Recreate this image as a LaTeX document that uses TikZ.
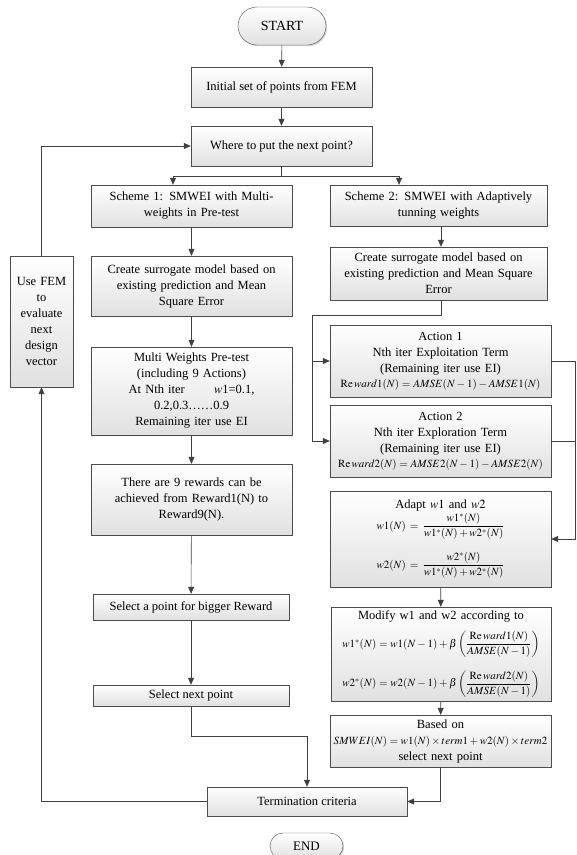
\documentclass[tikz,border=0pt]{standalone}
\usepackage{amsmath}
\usepackage{mathptmx}
\usepackage{fontspec}
\setmainfont{Liberation Serif}
\usetikzlibrary{shapes.misc,shadows,arrows.meta}

\tikzset{
  box/.style={draw=black!70, top color=white, bottom color=black!12,
    drop shadow={shadow xshift=1.2pt, shadow yshift=-1.2pt, fill=black!35},
    align=center, inner sep=2pt, font=\fontsize{12.5}{16}\selectfont},
  pill/.style={box, rounded rectangle, font=\fontsize{14}{16}\selectfont},
  flow/.style={draw=black!75, semithick, -{Triangle[length=7pt,width=6pt]}},
  line/.style={draw=black!75, semithick}
}
\newcommand{\eqsize}{\fontsize{11}{13}\selectfont}

\begin{document}
\begin{tikzpicture}[x=1pt, y=-1pt]
\useasboundingbox (0,0) rectangle (577,855);
% Main column
\node[pill, minimum width=92pt, minimum height=38pt] (start) at (282,26) {START};
\node[box, minimum width=181pt, minimum height=40pt] (init) at (281.5,87) {Initial set of points from FEM};
\node[box, minimum width=181pt, minimum height=40pt] (where) at (281.5,146) {Where to put the next point?};
% Scheme 1
\node[box, minimum width=201pt, minimum height=42pt, text width=197pt] (s1) at (191.5,206) {Scheme 1: SMWEI with Multi-\\weights in Pre-test};
\node[box, minimum width=201pt, minimum height=60pt, text width=197pt] (c1) at (191.5,286) {Create surrogate model based on\\existing prediction and Mean\\Square Error};
\node[box, minimum width=201pt, minimum height=88pt, text width=197pt] (multi) at (191.5,391) {Multi Weights Pre-test\\(including 9 Actions)\\At Nth iter \qquad $w$1=0.1,\\0.2,0.3……0.9\\Remaining iter use EI};
\node[box, minimum width=201pt, minimum height=71pt, text width=197pt] (rew) at (191.5,499.5) {There are 9 rewards can be\\achieved from Reward1(N) to\\Reward9(N).};
\node[box, minimum width=196pt, minimum height=26pt] (big) at (191,607) {Select a point for bigger Reward};
\node[box, minimum width=196pt, minimum height=21pt] (next) at (191,695.5) {Select next point};
\node[box, minimum width=63pt, minimum height=131pt, text width=59pt] (fem) at (41.5,321.5) {Use FEM\\to\\evaluate\\next\\design\\vector};
% Scheme 2
\node[box, minimum width=217pt, minimum height=41pt, text width=213pt] (s2) at (438.5,205.5) {Scheme 2: SMWEI with Adaptively\\tunning weights};
\node[box, minimum width=217pt, minimum height=53pt, text width=213pt] (c2) at (438.5,273.5) {Create surrogate model based on\\existing prediction and Mean Square\\Error};
\node[box, minimum width=221pt, minimum height=72pt, text width=217pt] (a1) at (440.5,361) {Action 1\\Nth iter Exploitation Term\\(Remaining iter use EI)\\[-1pt]
  {\eqsize $\mathrm{Re}\,ward1(N)=AMSE(N-1)-AMSE1(N)$}};
\node[box, minimum width=221pt, minimum height=72pt, text width=217pt] (a2) at (440.5,441) {Action 2\\Nth iter Exploration Term\\(Remaining iter use EI)\\[-1pt]
  {\eqsize $\mathrm{Re}\,ward2(N)=AMSE2(N-1)-AMSE2(N)$}};
\node[box, minimum width=221pt, minimum height=96pt, text width=217pt] (adapt) at (440.5,539) {Adapt $w1$ and $w2$\\[2pt]
  {\eqsize $w1(N)=\dfrac{w1^{*}(N)}{w1^{*}(N)+w2^{*}(N)}$}\\[12pt]
  {\eqsize $w2(N)=\dfrac{w2^{*}(N)}{w1^{*}(N)+w2^{*}(N)}$}};
\node[box, minimum width=220pt, minimum height=94pt, text width=216pt] (modify) at (441,654) {Modify w1 and w2 according to\\[8pt]
  {\eqsize $w1^{*}(N)=w1(N-1)+\beta\left(\dfrac{\mathrm{Re}\,ward1(N)}{AMSE(N-1)}\right)$}\\[12pt]
  {\eqsize $w2^{*}(N)=w2(N-1)+\beta\left(\dfrac{\mathrm{Re}\,ward2(N)}{AMSE(N-1)}\right)$}};
\node[box, minimum width=221pt, minimum height=52pt, text width=217pt] (based) at (440.5,741) {Based on\\
  {\eqsize $SMWEI(N)=w1(N)\times term1+w2(N)\times term2$}\\select next point};
% End
\node[box, minimum width=200pt, minimum height=29pt] (term) at (307,801.5) {Termination criteria};
\node[pill, minimum width=77pt, minimum height=26pt, font=\fontsize{13}{15}\selectfont] (end) at (306.5,846) {END};
% Connectors
\draw[flow] (start) -- (init);
\draw[flow] (init) -- (where);
\draw[flow] (where.south) -- ++(0,10) -| ([xshift=-18.5pt]s1.north);
\draw[flow] (where.south) -- ++(0,10) -| ([xshift=-39.5pt]s2.north);
\draw[flow] (s1) -- (c1);
\draw[flow] (c1) -- (multi);
\draw[flow] (multi) -- (rew);
\draw[flow] (rew) -- (big);
\draw[flow] (big) -- (next);
\draw[flow] (next.south) -- ++(0,30) -| (term.north);
\draw[flow] (term.west) -| (fem.south);
\draw[flow] (fem.north) |- (where.west);
\draw[flow] ([xshift=2.5pt]s2.south) -- ([xshift=2.5pt]c2.north);
\coordinate (bus) at (312,315);
\draw[line] ([xshift=2.5pt]c2.south) |- (bus);
\draw[flow] (bus) |- (a1.west);
\draw[flow] (bus) |- (a2.west);
\draw[line] (a1.east) -- ++(24,0) coordinate (r1);
\draw[line] (a2.east) -- ++(24,0);
\draw[flow] (r1) |- (adapt.east);
\draw[flow] (adapt) -- (modify);
\draw[flow] (modify) -- (based);
\draw[flow] (based.south) |- (term.east);
\end{tikzpicture}
\end{document}
